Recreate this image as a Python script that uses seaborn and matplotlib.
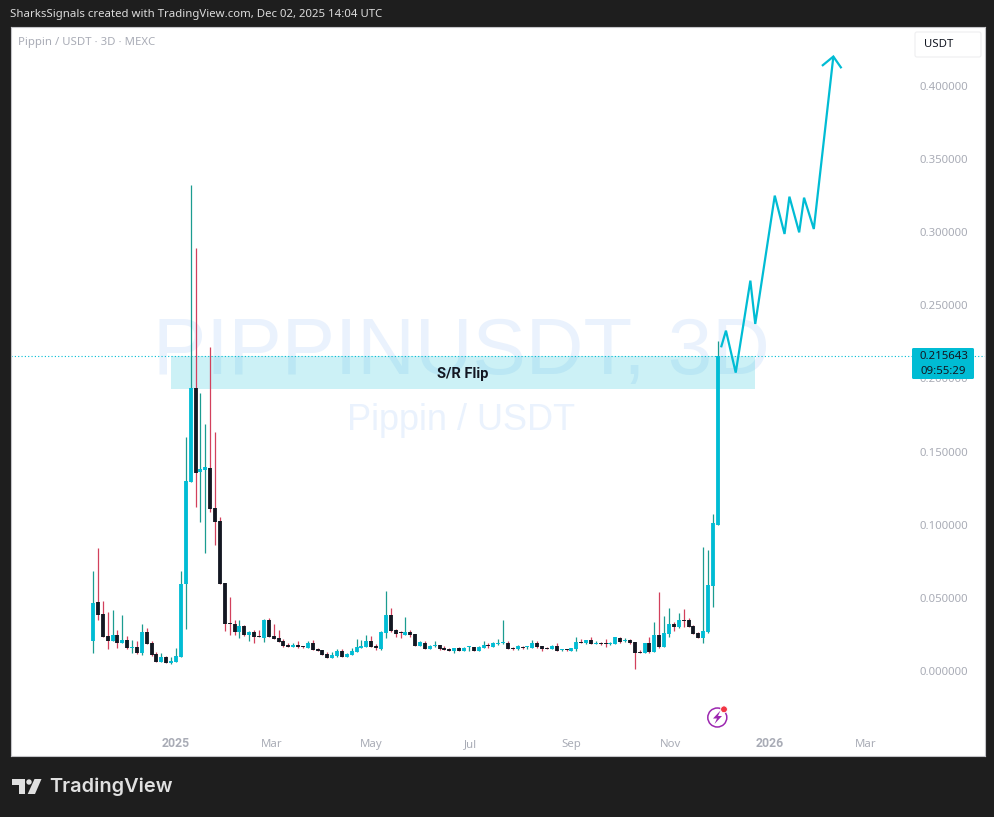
import numpy as np
import pandas as pd
import seaborn as sns
import matplotlib.pyplot as plt
from matplotlib.patches import Rectangle, Polygon, Circle, FancyBboxPatch
from matplotlib.transforms import Affine2D

# candles, 3D, oldest first
opens = [.0205,.0472,.0390,.0239,.0205,.0246,.0191,.0212,.0160,.0164,.0123,.0267,.0191,.0116,.0064,.0096,.0055,.0062,.0098,.0595,
         .1295,.1935,.1363,.1374,.1388,.1115,.1026,.0602,.0326,.0321,.0267,.0308,.0246,.0267,.0239,.0226,.0349,.0239,.0226,.0205,
         .0178,.0164,.0178,.0171,.0157,.0191,.0150,.0144,.0116,.0089,.0103,.0137,.0096,.0109,.0130,.0157,.0164,.0205,.0171,.0150,
         .0260,.0383,.0280,.0264,.0246,.0267,.0253,.0171,.0191,.0150,.0171,.0178,.0157,.0150,.0137,.0157,.0137,.0164,.0164,.0137,
         .0157,.0178,.0164,.0187,.0191,.0191,.0157,.0150,.0164,.0166,.0157,.0191,.0171,.0157,.0150,.0171,.0146,.0150,.0137,.0150,
         .0198,.0191,.0212,.0187,.0191,.0191,.0187,.0185,.0226,.0207,.0212,.0198,.0130,.0123,.0191,.0130,.0246,.0164,.0253,.0321,
         .0301,.0349,.0349,.0308,.0260,.0226,.0267,.0581,.0998]
closes = [.0463,.0385,.0235,.0205,.0246,.0194,.0212,.0157,.0164,.0123,.0267,.0185,.0109,.0064,.0096,.0055,.0068,.0103,.0595,.1299,
          .1935,.1356,.1381,.1397,.1108,.1019,.0595,.0321,.0321,.0267,.0308,.0246,.0267,.0232,.0232,.0349,.0232,.0219,.0198,.0171,
          .0164,.0178,.0164,.0166,.0191,.0144,.0137,.0109,.0089,.0109,.0137,.0096,.0116,.0137,.0164,.0171,.0205,.0164,.0157,.0267,
          .0383,.0274,.0253,.0260,.0267,.0246,.0171,.0198,.0150,.0171,.0178,.0150,.0144,.0137,.0155,.0137,.0157,.0171,.0137,.0164,
          .0178,.0171,.0191,.0191,.0196,.0150,.0153,.0171,.0160,.0171,.0191,.0164,.0150,.0153,.0171,.0137,.0150,.0146,.0155,.0198,
          .0194,.0212,.0185,.0191,.0187,.0187,.0191,.0232,.0198,.0212,.0191,.0123,.0125,.0191,.0130,.0246,.0164,.0260,.0321,.0301,
          .0349,.0344,.0301,.0253,.0226,.0274,.0588,.1012,.2156]
highs = [.0684,.0839,.0476,.0403,.0415,.0280,.0383,.0239,.0212,.0205,.0319,.0294,.0205,.0130,.0123,.0103,.0096,.0157,.0684,.1602,
         .3323,.2890,.1901,.1689,.2215,.1634,.1053,.0602,.0506,.0349,.0349,.0315,.0274,.0280,.0280,.0356,.0362,.0321,.0280,.0219,
         .0191,.0191,.0205,.0171,.0205,.0212,.0157,.0144,.0130,.0130,.0150,.0150,.0123,.0157,.0219,.0212,.0246,.0239,.0185,.0274,
         .0547,.0431,.0287,.0274,.0369,.0280,.0253,.0205,.0205,.0178,.0205,.0178,.0171,.0157,.0155,.0164,.0164,.0171,.0164,.0171,
         .0205,.0191,.0198,.0219,.0349,.0205,.0164,.0178,.0171,.0171,.0212,.0205,.0171,.0164,.0178,.0191,.0150,.0150,.0157,.0232,
         .0219,.0212,.0232,.0205,.0198,.0219,.0198,.0232,.0232,.0226,.0219,.0198,.0144,.0191,.0232,.0335,.0540,.0376,.0431,.0335,
         .0397,.0424,.0362,.0315,.0267,.0848,.0827,.1074,.2256]
lows = [.0125,.0349,.0235,.0153,.0205,.0160,.0191,.0150,.0125,.0119,.0112,.0185,.0105,.0062,.0062,.0055,.0048,.0062,.0098,.0287,
        .1295,.1124,.1021,.0809,.1089,.0864,.0595,.0274,.0246,.0246,.0226,.0239,.0205,.0191,.0232,.0198,.0232,.0219,.0198,.0164,
        .0164,.0164,.0157,.0155,.0157,.0144,.0137,.0109,.0089,.0089,.0096,.0096,.0096,.0109,.0130,.0157,.0164,.0164,.0144,.0144,
        .0226,.0267,.0232,.0226,.0246,.0232,.0171,.0171,.0150,.0150,.0164,.0146,.0144,.0137,.0125,.0137,.0137,.0137,.0137,.0137,
        .0157,.0157,.0164,.0178,.0185,.0150,.0144,.0144,.0150,.0150,.0157,.0157,.0137,.0150,.0150,.0137,.0137,.0137,.0137,.0137,
        .0194,.0185,.0185,.0187,.0178,.0164,.0178,.0185,.0191,.0198,.0185,.0014,.0125,.0123,.0123,.0130,.0157,.0164,.0232,.0274,
        .0294,.0301,.0301,.0253,.0226,.0191,.0260,.0438,.0998]
first_candle = "2024-11-11"

# hand drawn projection
path_dates = ["2025-12-02","2025-12-05","2025-12-11","2025-12-20","2025-12-23","2026-01-04","2026-01-10",
              "2026-01-13","2026-01-19","2026-01-22","2026-01-28","2026-02-09"]
path_prices = [.2213,.2327,.2040,.2669,.2373,.3250,.2988,.3243,.2999,.3236,.3022,.4201]
head_dates = ["2026-02-02","2026-02-09","2026-02-14"]
head_prices = [.4137,.4201,.4121]

zone_dates = ["2024-12-29","2025-12-23"]
zone_prices = [.1928,.2157]
last_price = 0.215643

y_ticks = [0,.05,.1,.15,.2,.25,.3,.35,.4]
x_tick_dates = ["2025-01-01","2025-03-01","2025-05-01","2025-07-01","2025-09-01","2025-11-01","2026-01-01","2026-03-01"]
x_tick_labels = ["2025","Mar","May","Jul","Sep","Nov","2026","Mar"]

UP, DOWN = "#00bcd4", "#131722"
UP_WICK, DOWN_WICK = "#1b9c90", "#d2405c"
GREY = "#a9acb6"
DARK = "#1e1e1e"

sns.set_theme(style="white")
plt.rcParams["font.family"] = ["Noto Sans", "DejaVu Sans"]

dates = pd.date_range(first_candle, periods=len(opens), freq="3D")
df = pd.DataFrame({"date": dates, "open": opens, "high": highs, "low": lows, "close": closes})
df["candle"] = np.arange(len(df))
df["side"] = np.where(df["close"] >= df["open"], "up", "down")
wicks = df.melt(id_vars=["candle", "date", "side"], value_vars=["low", "high"], value_name="price")
bodies = df.melt(id_vars=["candle", "date", "side"], value_vars=["open", "close"], value_name="price")

fig = plt.figure(figsize=(9.95, 8.17), dpi=100, facecolor=DARK)
ax = fig.add_axes([11 / 995, 61 / 817, 974 / 995, 729 / 817])

# pixel coordinates of the image, for the furniture round the chart
px = Affine2D().scale(1 / 995, -1 / 817).translate(0, 1) + fig.transFigure

# watermark sits under the axes, so the axes background has to go
ax.set_zorder(1)
ax.patch.set_visible(False)
fig.add_artist(Rectangle((11, 27), 974, 729, transform=px, facecolor="white", edgecolor="none", zorder=-2))
fig.text(461.5 / 995, 1 - 353 / 817, "PIPPINUSDT, 3D", family="Liberation Sans", fontsize=57.5,
         color="#eaf2fd", ha="center", va="center", zorder=-1)
fig.text(461 / 995, 1 - 420 / 817, "Pippin / USDT", family="Liberation Sans", fontsize=26,
         color="#eaf2fd", ha="center", va="center", zorder=-1)

zone_x = pd.to_datetime(zone_dates)
ax.fill_between(zone_x, zone_prices[0], zone_prices[1], color="#00bcd4", alpha=0.2, linewidth=0, zorder=1)
ax.axhline(last_price, color=UP, linestyle=(0, (1, 2)), linewidth=0.8, zorder=1.5)

sns.lineplot(data=wicks, x="date", y="price", units="candle", hue="side", estimator=None, sort=False,
             palette={"up": UP_WICK, "down": DOWN_WICK}, linewidth=0.9, legend=False, ax=ax,
             solid_capstyle="butt", zorder=2)
sns.lineplot(data=bodies, x="date", y="price", units="candle", hue="side", estimator=None, sort=False,
             palette={"up": UP, "down": DOWN}, linewidth=2.75, legend=False, ax=ax,
             solid_capstyle="butt", zorder=3)
sns.lineplot(x=pd.to_datetime(path_dates), y=path_prices, estimator=None, sort=False, color=UP,
             linewidth=1.6, ax=ax, zorder=4, solid_joinstyle="miter", solid_capstyle="butt")
sns.lineplot(x=pd.to_datetime(head_dates), y=head_prices, estimator=None, sort=False, color=UP,
             linewidth=1.6, ax=ax, zorder=4, solid_joinstyle="miter", solid_capstyle="butt")

ax.text(pd.Timestamp("2025-06-26"), 0.2030, "S/R Flip", ha="center", va="center", fontsize=10.5,
        family="Roboto", fontweight="bold", color="#131722", zorder=5)

ax.set_xlim(pd.Timestamp("2024-09-21 14:00"), pd.Timestamp("2026-05-13 05:00"))
ax.set_ylim(-0.0581, 0.4403)
ax.set_xlabel("")
ax.set_ylabel("")
ax.yaxis.tick_right()
ax.set_yticks(y_ticks, [f"{v:.6f}" for v in y_ticks])
ax.set_xticks(pd.to_datetime(x_tick_dates), x_tick_labels)
ax.tick_params(axis="y", length=0, pad=-47, labelsize=8.2, labelcolor=GREY)
ax.tick_params(axis="x", length=0, pad=-6.5, labelsize=8.2, labelcolor=GREY)
for lab in ax.get_xticklabels():
    lab.set_va("baseline")
    if lab.get_text() in ("2025", "2026"):
        lab.set_family("Roboto")
        lab.set_fontweight("bold")
        lab.set_fontsize(8.8)
for s in ax.spines.values():
    s.set_color("#c4c4c8")
    s.set_linewidth(0.8)

# last price badge
fig.add_artist(FancyBboxPatch((912, 348), 62, 31, boxstyle="round,pad=0,rounding_size=1.5", transform=px,
                              facecolor=UP, edgecolor="none", zorder=6))
fig.text(944 / 995, 1 - 356 / 817, f"{last_price:.6f}", color="#131722", fontsize=8.2, ha="center", va="center", zorder=7)
fig.text(943 / 995, 1 - 371 / 817, "09:55:29", color="#131722", fontsize=8.2, ha="center", va="center", zorder=7)

# currency button
fig.add_artist(FancyBboxPatch((915, 32), 66, 25, boxstyle="round,pad=0,rounding_size=2", transform=px,
                              facecolor="white", edgecolor="#eeeef0", linewidth=0.8, zorder=6))
fig.text(924 / 995, 1 - 44.5 / 817, "USDT", color="#131722", fontsize=8.2, ha="left", va="center", zorder=7)

fig.text(10 / 995, 1 - 14.5 / 817, "SharksSignals created with TradingView.com, Dec 02, 2025 14:04 UTC",
         color="#dcdcdc", fontsize=8.2, ha="left", va="center")
fig.text(18 / 995, 1 - 42 / 817, "Pippin / USDT · 3D · MEXC", color=GREY, fontsize=8.2, ha="left", va="center", zorder=7)

# TradingView logo
fig.add_artist(Polygon([(12, 779), (25, 779), (25, 794), (18.5, 794), (18.5, 785), (12, 785)], transform=px,
                       facecolor="#e0e0e0", edgecolor="none"))
fig.add_artist(Circle((29, 782), 2.7, transform=px, facecolor="#e0e0e0", edgecolor="none"))
fig.add_artist(Polygon([(34.5, 779), (41.5, 779), (35, 794), (27.7, 794)], transform=px,
                       facecolor="#e0e0e0", edgecolor="none"))
fig.text(49 / 995, 1 - 787 / 817, "TradingView", color="#e0e0e0", fontsize=14.4, family="Inter",
         fontweight="semibold", ha="left", va="center")

# bolt icon
fig.add_artist(Circle((717.3, 717.5), 9.5, transform=px, facecolor="none", edgecolor="#9c27b0", linewidth=1.1, zorder=6))
fig.add_artist(Polygon([(720.5, 710.5), (713, 718.5), (717, 718.5), (714.5, 724), (722, 716), (718, 716)], transform=px,
                       facecolor="#9c27b0", edgecolor="none", zorder=6))
fig.add_artist(Circle((724, 709.3), 3.4, transform=px, facecolor="#f23645", edgecolor="white", linewidth=0.6, zorder=7))

fig.savefig("out.png", dpi=100, facecolor=fig.get_facecolor())
